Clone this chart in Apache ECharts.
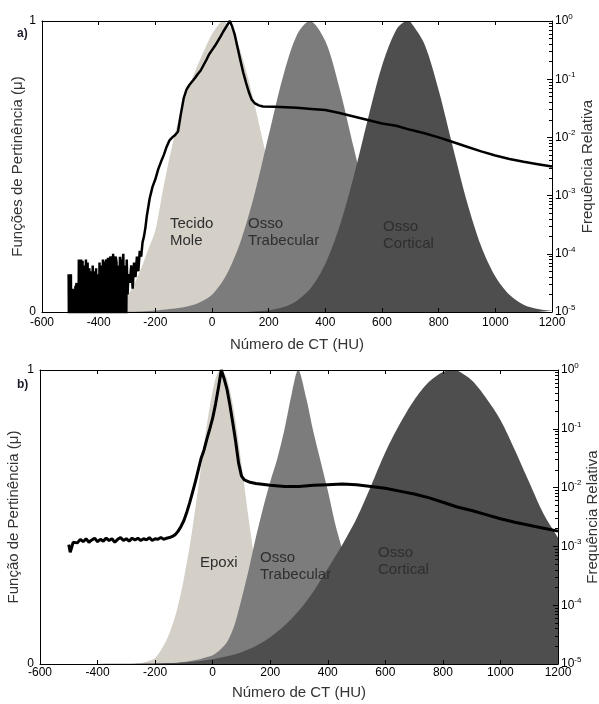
<!DOCTYPE html>
<html>
<head>
<meta charset="utf-8">
<script src="https://cdn.jsdelivr.net/npm/echarts@6/dist/echarts.min.js"></script>
<style>
  html, body { margin: 0; padding: 0; background: #fff; }
  #chart { width: 599px; height: 704px; }
</style>
</head>
<body>
<div id="chart"></div>
<script>
// ---- painel a) : funções de pertinência [HU, mu]
const tecidoMole = [[-500,0],[-450,0.001],[-400,0.005],[-350,0.02],[-300,0.055],[-275,0.095],[-250,0.15],[-225,0.215],[-200,0.28],[-175,0.41],[-150,0.53],[-125,0.635],[-100,0.72],[-75,0.79],[-50,0.85],[-25,0.905],[0,0.955],[25,0.99],[40,1],[50,0.994],[75,0.96],[100,0.898],[125,0.813],[150,0.714],[175,0.607],[200,0.499],[225,0.398],[250,0.308],[275,0.23],[300,0.167],[350,0.08],[400,0.033],[450,0.012],[500,0.004],[550,0.001],[600,0],[1200,0]]
const ossoTrabA = [[-500,0],[-300,0.001],[-250,0.002],[-200,0.005],[-150,0.01],[-100,0.016],[-50,0.03],[0,0.059],[50,0.126],[100,0.24],[150,0.405],[200,0.607],[250,0.807],[300,0.953],[345,1],[400,0.931],[450,0.769],[500,0.565],[550,0.368],[600,0.213],[650,0.109],[700,0.05],[750,0.02],[800,0.007],[850,0.002],[900,0],[1200,0]]
const ossoCortA = [[-500,0],[100,0],[150,0.002],[200,0.006],[250,0.016],[300,0.039],[350,0.084],[400,0.166],[450,0.294],[500,0.465],[550,0.662],[600,0.846],[650,0.969],[688,1],[700,0.997],[750,0.92],[800,0.762],[850,0.567],[900,0.378],[950,0.226],[1000,0.122],[1050,0.059],[1100,0.025],[1150,0.01],[1200,0.004]]

// frequência relativa (log10) [HU, log10(freq)]; -6 = contagem zero
const freqALog = [[-506,-4.35],[-504,-6],[-502,-4.4],[-500,-6],[-498,-4.35],[-496,-6],[-494,-4.6],[-492,-6],[-490,-4.65],[-488,-6],[-486,-4.6],[-484,-6],[-482,-4.55],[-480,-4.6],[-478,-4.5],[-476,-6],[-474,-4.6],[-472,-6],[-470,-4.1],[-468,-6],[-466,-4.15],[-464,-4.2],[-462,-4.1],[-460,-6],[-457,-4.12],[-454,-6],[-451,-4.2],[-448,-6],[-445,-4.1],[-442,-6],[-439,-4.15],[-436,-6],[-433,-4.25],[-430,-6],[-427,-4.3],[-424,-6],[-421,-4.2],[-418,-6],[-415,-4.3],[-412,-6],[-409,-4.25],[-406,-6],[-403,-4.35],[-400,-6],[-397,-4.15],[-394,-6],[-391,-4.2],[-388,-6],[-385,-4.1],[-382,-6],[-379,-4.2],[-376,-4.15],[-373,-4.1],[-370,-6],[-367,-4.07],[-364,-6],[-361,-4.1],[-358,-4.05],[-355,-4.1],[-352,-6],[-349,-4.0],[-346,-6],[-343,-4.1],[-340,-4.05],[-337,-4.15],[-334,-6],[-331,-4.2],[-328,-6],[-325,-4.05],[-322,-6],[-319,-4.1],[-316,-4.15],[-313,-4.0],[-310,-6],[-307,-4.2],[-304,-6],[-301,-4.1],[-298,-4.7],[-295,-4.35],[-290,-4.5],[-285,-4.2],[-280,-4.6],[-275,-4.15],[-270,-4.4],[-265,-4.05],[-260,-4.3],[-255,-3.95],[-250,-4.05],[-245,-3.8],[-240,-3.7],[-235,-3.55],[-230,-3.35],[-220,-3.05],[-210,-2.85],[-200,-2.72],[-190,-2.55],[-180,-2.42],[-170,-2.3],[-160,-2.16],[-150,-2.05],[-140,-2.0],[-130,-1.96],[-120,-1.9],[-110,-1.6],[-100,-1.33],[-90,-1.18],[-80,-1.1],[-70,-1.04],[-60,-0.98],[-50,-0.91],[-40,-0.85],[-30,-0.76],[-20,-0.67],[-10,-0.57],[0,-0.5],[10,-0.43],[20,-0.35],[30,-0.27],[40,-0.18],[50,-0.1],[63,0],[70,-0.08],[80,-0.23],[90,-0.45],[100,-0.67],[110,-0.88],[120,-1.06],[130,-1.22],[140,-1.35],[150,-1.41],[165,-1.45],[180,-1.47],[220,-1.475],[260,-1.48],[300,-1.49],[350,-1.51],[400,-1.53],[450,-1.58],[500,-1.64],[550,-1.7],[600,-1.76],[650,-1.8],[700,-1.87],[750,-1.93],[800,-2.0],[850,-2.08],[900,-2.16],[950,-2.24],[1000,-2.31],[1050,-2.37],[1100,-2.42],[1150,-2.46],[1200,-2.5]]

// ---- painel b)
const epoxi = [[-500,0],[-300,0],[-275,0.001],[-250,0.003],[-225,0.009],[-200,0.02],[-175,0.055],[-150,0.105],[-125,0.18],[-100,0.29],[-75,0.43],[-50,0.6],[-25,0.78],[0,0.93],[15,0.985],[30,1],[50,0.969],[75,0.854],[100,0.682],[125,0.494],[150,0.325],[175,0.193],[200,0.105],[225,0.051],[250,0.023],[275,0.009],[300,0.003],[325,0.001],[350,0],[1200,0]]
const ossoTrabB = [[-500,0],[-200,0.001],[-150,0.003],[-100,0.007],[-50,0.015],[-25,0.022],[0,0.03],[25,0.048],[50,0.075],[75,0.13],[100,0.22],[125,0.32],[150,0.43],[175,0.53],[200,0.62],[225,0.7],[250,0.8],[275,0.92],[297,1],[325,0.905],[350,0.79],[375,0.69],[400,0.59],[425,0.48],[450,0.39],[475,0.3],[500,0.22],[525,0.15],[550,0.1],[575,0.065],[600,0.04],[650,0.015],[700,0.005],[750,0.001],[800,0],[1200,0]]
const ossoCortB = [[-500,0],[-400,0.0001],[-300,0.0005],[-200,0.0017],[-150,0.003],[-100,0.0055],[-50,0.0095],[0,0.016],[50,0.026],[100,0.04],[150,0.061],[200,0.091],[250,0.131],[300,0.182],[350,0.247],[400,0.325],[450,0.405],[500,0.495],[550,0.605],[600,0.72],[650,0.816],[700,0.897],[750,0.958],[800,0.993],[835,1],[850,0.998],[900,0.965],[950,0.905],[1000,0.83],[1050,0.728],[1100,0.618],[1150,0.51],[1200,0.43]]

const freqBLog = [[-500,-2.97],[-495,-3.1],[-490,-3.02],[-485,-2.93],[-480,-2.9],[-470,-2.94],[-460,-2.88],[-450,-2.92],[-440,-2.87],[-430,-2.93],[-420,-2.89],[-410,-2.86],[-400,-2.92],[-390,-2.88],[-380,-2.91],[-370,-2.86],[-360,-2.9],[-350,-2.87],[-340,-2.93],[-330,-2.88],[-320,-2.85],[-310,-2.9],[-300,-2.87],[-290,-2.91],[-280,-2.86],[-270,-2.89],[-260,-2.86],[-250,-2.9],[-240,-2.87],[-230,-2.89],[-220,-2.85],[-210,-2.9],[-200,-2.87],[-190,-2.88],[-180,-2.85],[-170,-2.88],[-160,-2.86],[-150,-2.85],[-140,-2.83],[-130,-2.8],[-120,-2.74],[-110,-2.66],[-100,-2.56],[-90,-2.42],[-80,-2.26],[-70,-2.08],[-60,-1.9],[-50,-1.7],[-40,-1.5],[-30,-1.36],[-20,-1.17],[-10,-1.0],[0,-0.82],[10,-0.58],[20,-0.3],[30,0],[40,-0.15],[50,-0.33],[60,-0.6],[70,-0.9],[80,-1.22],[90,-1.58],[100,-1.8],[110,-1.87],[130,-1.91],[150,-1.93],[200,-1.96],[250,-1.98],[300,-1.98],[350,-1.96],[400,-1.95],[450,-1.94],[500,-1.95],[550,-1.98],[600,-2.01],[650,-2.06],[700,-2.11],[750,-2.17],[800,-2.25],[850,-2.33],[900,-2.39],[950,-2.46],[1000,-2.53],[1050,-2.59],[1100,-2.64],[1150,-2.69],[1200,-2.74]]

const xTicks = { min: -600, max: 1200, interval: 200 }
const decades = [-5, -4, -3, -2, -1]

const FONT = 'Liberation Sans, Arial, sans-serif'
const cLight = '#d4d0c8'
const cMid = '#7c7c7c'
const cDark = '#4e4e4e'

const toFreq = (arr) => arr.map(([x, e]) => [x, Math.pow(10, e)])

// pequenas marcas log (2..9 x 10^n), em expoente
const minorTicks = []
decades.forEach(d => {
  for (let k = 2; k <= 9; k++) minorTicks.push(d + Math.log10(k))
})

const axLine = { show: true, onZero: false, lineStyle: { color: '#000', width: 1 } }

function xAxisPair(gi, nameGap, labelMargin) {
  return [
    {
      gridIndex: gi, type: 'value', position: 'bottom', ...xTicks, z: 10,
      axisLine: axLine,
      axisTick: { show: true, inside: true, length: 4, lineStyle: { color: '#000' } },
      axisLabel: { color: '#000', fontSize: 12, fontFamily: FONT, margin: labelMargin, formatter: v => String(v) },
      splitLine: { show: false },
      name: 'Número de CT (HU)', nameLocation: 'middle', nameGap: nameGap, nameMoveOverlap: false,
      nameTextStyle: { color: '#333', fontSize: 15, fontFamily: FONT },
    },
    {
      gridIndex: gi, type: 'value', position: 'top', ...xTicks, z: 10,
      axisLine: axLine,
      axisTick: { show: true, inside: true, length: 4, lineStyle: { color: '#000' } },
      axisLabel: { show: false },
      splitLine: { show: false },
    },
  ]
}

function yAxisSet(gi, leftName, leftGap, rightGap) {
  return [
    {
      gridIndex: gi, type: 'value', position: 'left', min: 0, max: 1, interval: 1, z: 10,
      axisLine: axLine,
      axisTick: { show: true, inside: true, length: 4, lineStyle: { color: '#000' } },
      axisLabel: { color: '#000', fontSize: 12, fontFamily: FONT, margin: 6 },
      splitLine: { show: false },
      name: leftName, nameLocation: 'middle', nameGap: leftGap, nameMoveOverlap: false,
      nameTextStyle: { color: '#333', fontSize: 15, fontFamily: FONT },
    },
    {
      gridIndex: gi, type: 'log', logBase: 10, position: 'right', min: 1e-5, max: 1, z: 10,
      axisLine: axLine,
      axisTick: { show: true, inside: true, length: 5, lineStyle: { color: '#000' } },
      axisLabel: {
        color: '#000', fontFamily: FONT, margin: 3,
        formatter: v => '{b|10}{s|' + Math.round(Math.log10(v)) + '}',
        rich: {
          b: { fontSize: 12, fontFamily: FONT, color: '#000' },
          s: { fontSize: 8, fontFamily: FONT, color: '#000', padding: [0, 0, 9, 0] },
        },
      },
      splitLine: { show: false },
      name: 'Frequência Relativa', nameLocation: 'middle', nameGap: rightGap, nameMoveOverlap: false,
      nameTextStyle: { color: '#333', fontSize: 15, fontFamily: FONT },
    },
    {
      gridIndex: gi, type: 'value', position: 'right', min: -5, max: 0, z: 10,
      axisLine: { show: false, onZero: false },
      axisTick: { show: true, inside: true, length: 3, customValues: minorTicks, lineStyle: { color: '#000' } },
      axisLabel: { show: false },
      splitLine: { show: false },
    },
  ]
}

function area(name, data, color, xi, yi) {
  return {
    name, type: 'line', data, xAxisIndex: xi, yAxisIndex: yi,
    smooth: 0.3, showSymbol: false, symbol: 'none', silent: true,
    lineStyle: { width: 0, color }, areaStyle: { color, opacity: 1 }, itemStyle: { color },
  }
}

function freqLine(name, data, xi, yi, w) {
  return {
    name, type: 'line', data: toFreq(data), xAxisIndex: xi, yAxisIndex: yi,
    showSymbol: false, symbol: 'none', silent: true, z: 5, clip: true,
    lineStyle: { color: '#000', width: w },
  }
}

function txt(left, top, text) {
  return {
    type: 'text', left, top, z: 100, silent: true,
    style: { text, fill: '#2e2e2e', font: '15px ' + FONT, lineHeight: 17 },
  }
}

const chart = echarts.init(document.getElementById('chart'), null, { renderer: 'canvas' })

const option = {
  animation: false,
  backgroundColor: '#fff',
  grid: [
    { left: 42, top: 21, width: 510, height: 291, outerBoundsMode: 'none', containLabel: false },
    { left: 40, top: 370, width: 518, height: 294, outerBoundsMode: 'none', containLabel: false },
  ],
  xAxis: [...xAxisPair(0, 25, 5), ...xAxisPair(1, 21, 3)],
  yAxis: [
    ...yAxisSet(0, 'Funções de Pertinência (μ)', 17, 28),
    ...yAxisSet(1, 'Função de Pertinência (μ)', 19, 27),
  ],
  series: [
    area('Tecido Mole', tecidoMole, cLight, 0, 0),
    area('Osso Trabecular', ossoTrabA, cMid, 0, 0),
    area('Osso Cortical', ossoCortA, cDark, 0, 0),
    freqLine('Frequência a', freqALog, 0, 1, 2.5),
    area('Epoxi', epoxi, cLight, 2, 3),
    area('Osso Trabecular b', ossoTrabB, cMid, 2, 3),
    area('Osso Cortical b', ossoCortB, cDark, 2, 3),
    freqLine('Frequência b', freqBLog, 2, 4, 3),
  ],
  graphic: [
    { type: 'text', left: 17, top: 28, z: 100, style: { text: 'a)', fill: '#1a1a2a', font: 'bold 12px ' + FONT } },
    { type: 'text', left: 17, top: 379, z: 100, style: { text: 'b)', fill: '#1a1a2a', font: 'bold 12px ' + FONT } },
    txt(170, 215, 'Tecido\nMole'),
    txt(248, 215, 'Osso\nTrabecular'),
    txt(383, 218, 'Osso\nCortical'),
    txt(200, 554, 'Epoxi'),
    txt(260, 549, 'Osso\nTrabecular'),
    txt(378, 544, 'Osso\nCortical'),
  ],
}

chart.setOption(option)
window.addEventListener('resize', function () {
  chart.resize()
})
</script>
</body>
</html>
